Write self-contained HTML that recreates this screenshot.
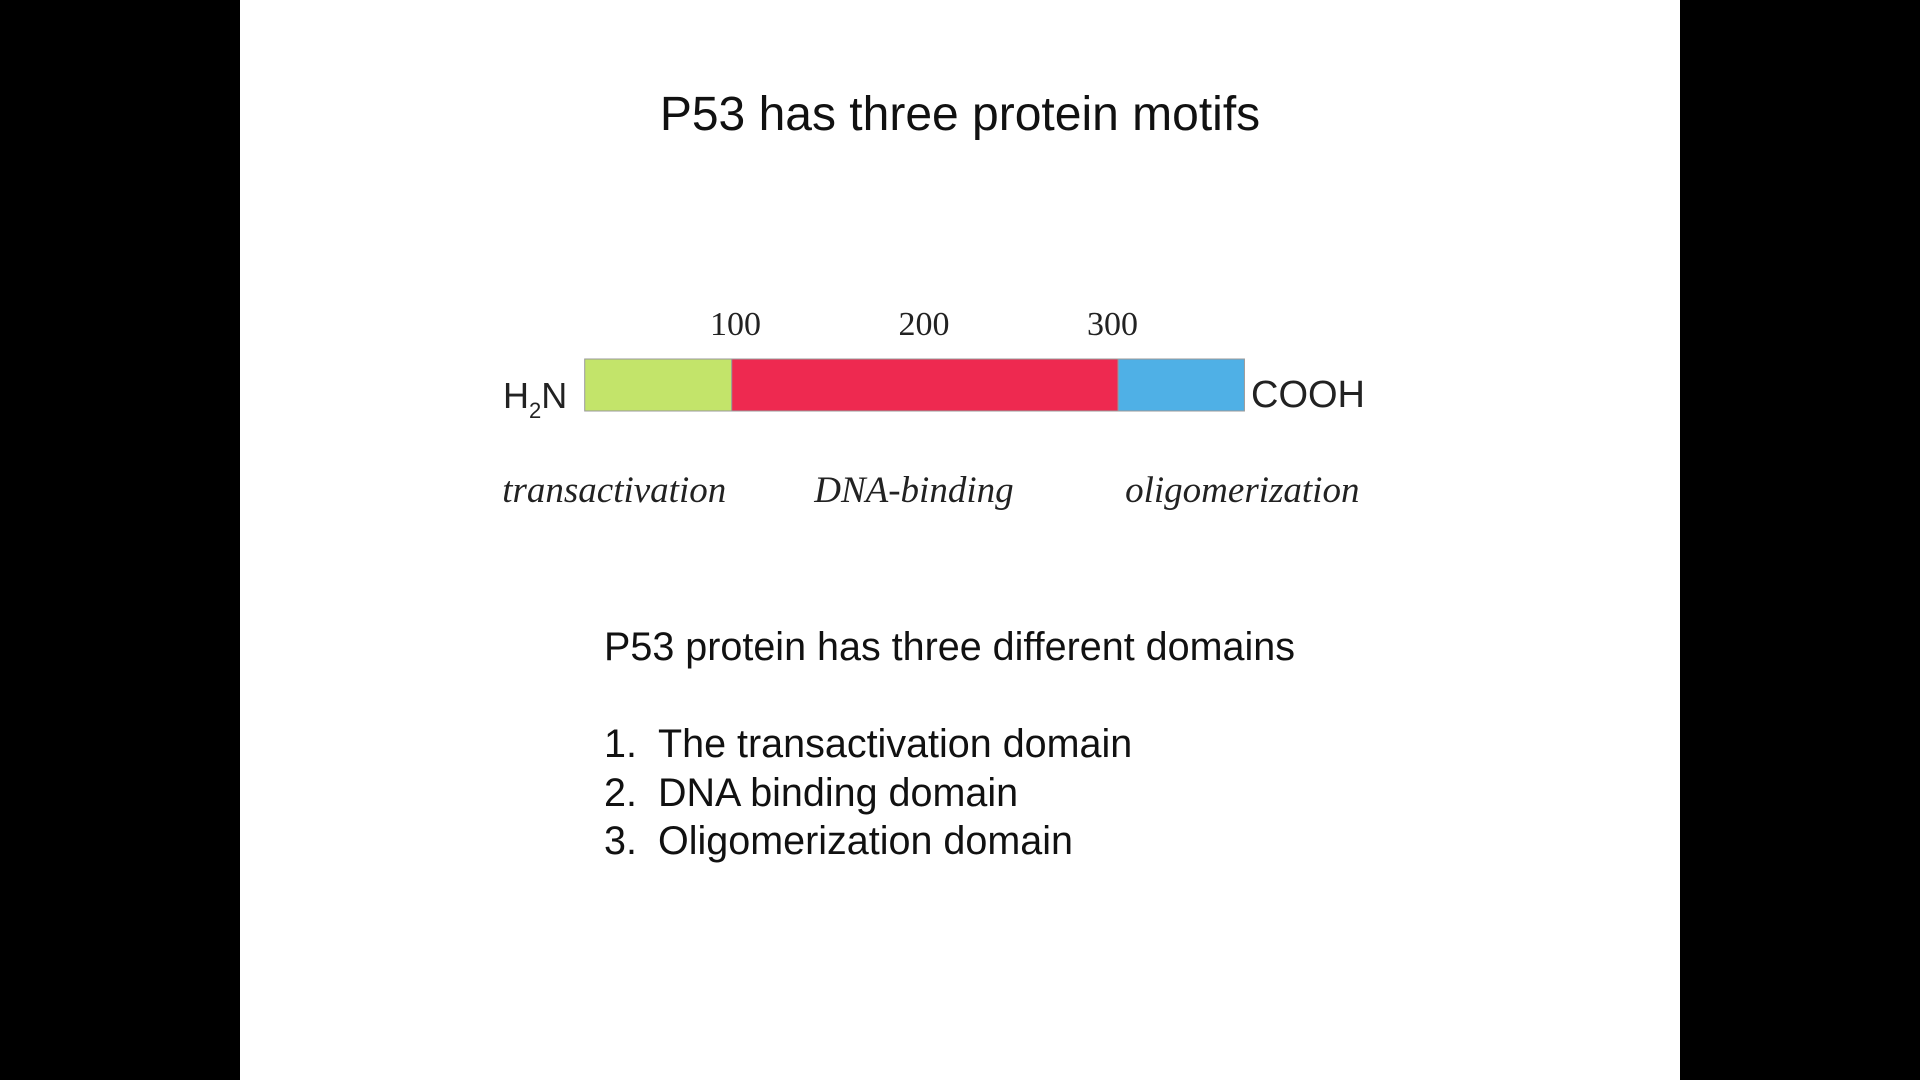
<!DOCTYPE html>
<html><head><meta charset="utf-8"><style>
body{margin:0;width:1920px;height:1080px;background:#000;position:relative;overflow:hidden;font-family:"Liberation Sans",sans-serif}
#slide{position:absolute;left:240px;top:0;width:1440px;height:1080px;background:#fff}
.t{position:absolute;white-space:nowrap;color:#111}
</style></head><body>
<div id="slide"></div>
<div class="t" style="left:0;width:1920px;text-align:center;top:87px;font-size:48px">P53 has three protein motifs</div>
<svg id="chart" width="1920" height="1080" style="position:absolute;left:0;top:0"></svg>
<div class="t" style="left:604px;top:625px;font-size:39.5px">P53 protein has three different domains</div>
<div style="position:absolute;left:604px;top:720px;font-size:39.5px;line-height:48.5px;color:#111">
<div><span style="display:inline-block;width:54px">1.</span>The transactivation domain</div>
<div><span style="display:inline-block;width:54px">2.</span>DNA binding domain</div>
<div><span style="display:inline-block;width:54px">3.</span>Oligomerization domain</div>
</div>
<script>
const domainNames=["transactivation","DNA-binding","oligomerization"];
const domainStart=[20,98,303];
const domainEnd=[98,303,370];
const domainColors=["#c3e46a","#ee2950","#4fb0e6"];
const tickValues=[100,200,300];
const tickLabels=["100","200","300"];
const ns="http://www.w3.org/2000/svg";
const svg=document.getElementById('chart');
const x0=547,k=1.885,barTop=359,barH=52;
const labelOffsets=[-44,-11,61];
function xs(r){return x0+r*k;}
function mk(tag,attrs){const e=document.createElementNS(ns,tag);for(const a in attrs)e.setAttribute(a,attrs[a]);svg.appendChild(e);return e;}
domainStart.forEach((s,i)=>{
 const r=mk('rect',{x:xs(s),y:barTop,width:xs(domainEnd[i])-xs(s),height:barH,fill:domainColors[i],stroke:'#999','stroke-width':1});
 
 
 const c=(xs(s)+xs(domainEnd[i]))/2+labelOffsets[i];
 const t=mk('text',{x:c,y:502,'text-anchor':'middle','font-family':'Liberation Serif, serif','font-size':37,'font-style':'italic',fill:'#222'});
 t.textContent=domainNames[i];
 
 
});
tickValues.forEach((v,i)=>{
 const t=mk('text',{x:xs(v),y:335,'text-anchor':'middle','font-family':'Liberation Serif, serif','font-size':34,fill:'#222'});
 t.textContent=tickLabels[i];
 
 
});
const h=mk('text',{x:503,y:408,'font-family':'Liberation Sans, sans-serif','font-size':36,fill:'#222'});
h.innerHTML='H<tspan font-size="22" dy="10">2</tspan><tspan dy="-10">N</tspan>';


const c=mk('text',{x:1251,y:407,'font-family':'Liberation Sans, sans-serif','font-size':38,fill:'#222'});
c.textContent='COOH';


</script>
</body></html>
